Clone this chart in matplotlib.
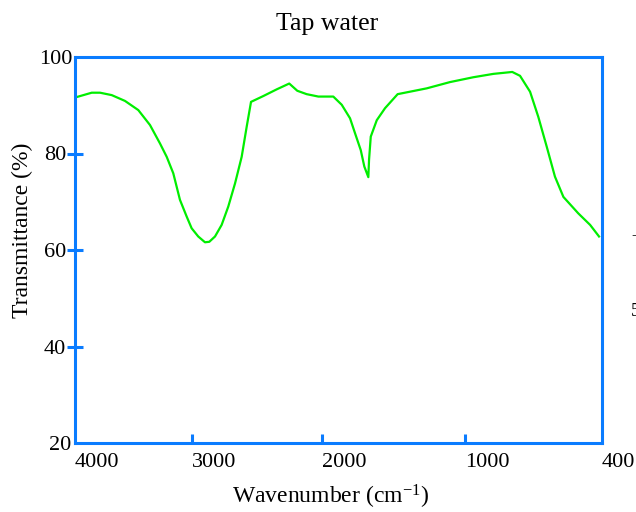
import numpy as np
import matplotlib.pyplot as plt

plt.rcParams['font.family'] = ['Liberation Serif', 'DejaVu Serif']
plt.rcParams['mathtext.fontset'] = 'custom'
plt.rcParams['mathtext.rm'] = 'Liberation Serif'
plt.rcParams['mathtext.it'] = 'Liberation Serif:italic'

# spectrum
wavenumber = [4000, 3857, 3786, 3686, 3573, 3459, 3359, 3274, 3216, 3160,
              3103, 3045, 3003, 2952, 2900, 2867, 2823, 2772, 2721, 2669,
              2618, 2579, 2546, 2452, 2348, 2252, 2190, 2118, 2028, 1921,
              1862, 1804, 1769, 1729, 1704, 1676, 1671, 1659, 1617, 1559,
              1471, 1268, 1105, 964, 876, 793, 759, 715, 679, 642,
              606, 569, 504, 452, 413]
transmittance = [91.6, 92.6, 92.6, 92.1, 90.9, 89.0, 85.9, 82.1, 79.3, 75.9,
                 70.4, 66.9, 64.5, 62.8, 61.6, 61.7, 62.8, 65.2, 69.0, 73.8,
                 79.3, 85.6, 90.7, 91.9, 93.3, 94.5, 93.0, 92.3, 91.8, 91.8,
                 90.1, 87.3, 84.2, 80.7, 77.3, 75.1, 78.7, 83.5, 86.9, 89.4,
                 92.3, 93.5, 94.8, 95.8, 96.5, 96.9, 96.1, 92.8, 87.6, 81.4,
                 75.2, 71.0, 67.6, 65.2, 62.8]

x_ticks = [4000, 3000, 2000, 1000, 400]
y_ticks = [20, 40, 60, 80, 100]

blue = '#0a7cff'
green = '#00ee00'

# the original axis is not evenly spaced, so map it piecewise
tick_pos = [0, 117 / 527, 247 / 527, 390 / 527, 1]


def forward(w):
    return np.interp(w, x_ticks[::-1], tick_pos[::-1])


def inverse(f):
    return np.interp(f, tick_pos, x_ticks)


fig = plt.figure(figsize=(6.36, 5.12), dpi=100)
ax = fig.add_axes([75 / 636, 1 - 443 / 512, 527 / 636, 386 / 512])
ax.set_xscale('function', functions=(forward, inverse))
ax.plot(wavenumber, transmittance, color=green, lw=1.6)
ax.set_xlim(400, 4000)
ax.set_ylim(20, 100)

ax.set_xticks(x_ticks)
ax.set_xticklabels([str(v) for v in x_ticks], ha='left')
ax.xaxis.set_minor_locator(plt.NullLocator())
ax.tick_params(axis='x', direction='in', length=6.5, width=2.2, color=blue,
               pad=7, labelsize=16)
ax.set_yticks(y_ticks)
ax.set_yticklabels([str(v) for v in y_ticks])
ax.tick_params(axis='y', direction='inout', length=11, width=2.2, color=blue,
               pad=1, labelsize=16)
for t in (ax.xaxis.get_major_ticks()[0], ax.xaxis.get_major_ticks()[-1],
          ax.yaxis.get_major_ticks()[0], ax.yaxis.get_major_ticks()[-1]):
    t.tick1line.set_visible(False)
# corner labels sit closer to the frame
ax.yaxis.get_major_ticks()[0].set_pad(-3)
ax.yaxis.get_major_ticks()[-1].set_pad(-4)

for s in ax.spines.values():
    s.set_color(blue)
    s.set_linewidth(2.2)

fig.text(327 / 636, 1 - 30 / 512, 'Tap water', ha='center', va='baseline', fontsize=18.5)
fig.text(331 / 636, 1 - 504 / 512, 'Wavenumber (cm$^{-1}$)', ha='center',
         va='baseline', fontsize=17)
fig.text(22 / 636, 1 - 230 / 512, 'Transmittance (%)', rotation=90,
         ha='center', va='center', fontsize=17)

# bits of the neighbouring panel cut off at the right edge
fig.text(631 / 636, 1 - 312 / 512, '5', ha='left', va='center', fontsize=14)
fig.text(631 / 636, 1 - 235 / 512, '-', ha='left', va='center', fontsize=12)

fig.savefig('out.png', dpi=100)
